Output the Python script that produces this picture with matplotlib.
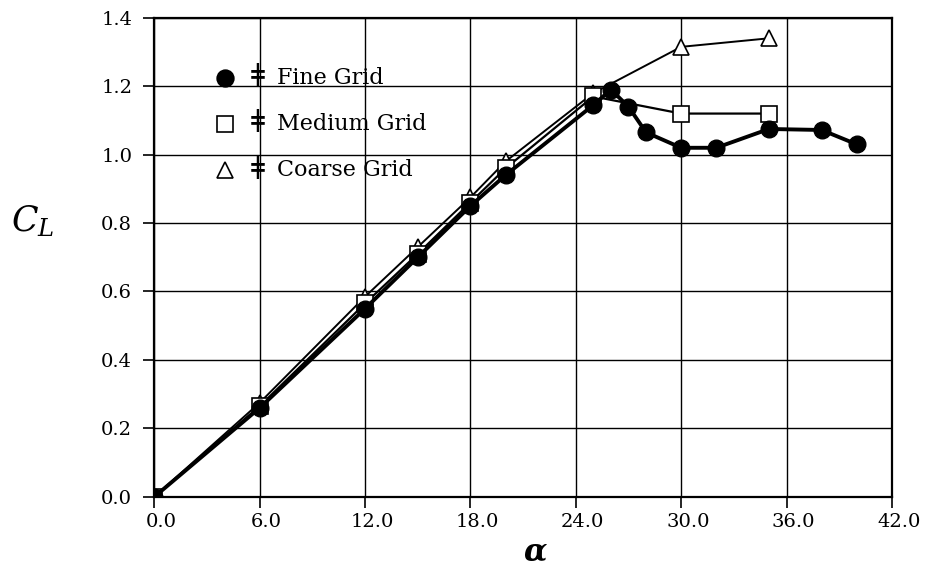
import numpy as np
import matplotlib
matplotlib.use("Agg")
import matplotlib.pyplot as plt
from matplotlib.transforms import ScaledTranslation

# angle of attack (deg) and lift coefficient
fine_alpha = [0, 6, 12, 15, 18, 20, 25, 26, 27, 28, 30, 32, 35, 38, 40]
fine_cl = [0.0, 0.26, 0.55, 0.70, 0.85, 0.94, 1.145, 1.19, 1.14, 1.065, 1.02, 1.02, 1.075, 1.072, 1.03]

medium_alpha = [0, 6, 12, 15, 18, 20, 25, 30, 35]
medium_cl = [0.0, 0.265, 0.565, 0.71, 0.86, 0.96, 1.17, 1.12, 1.12]

coarse_alpha = [0, 6, 12, 15, 18, 20, 25, 30, 35]
coarse_cl = [0.0, 0.275, 0.585, 0.73, 0.875, 0.98, 1.18, 1.315, 1.34]

xticks = np.arange(0, 43, 6)
yticks = np.arange(0, 1.41, 0.2)
legend_labels = ["Fine Grid", "Medium Grid", "Coarse Grid"]

plt.rcParams["font.family"] = ["DejaVu Serif"]
plt.rcParams["mathtext.fontset"] = "dejavuserif"

fig = plt.figure(figsize=(9.3, 5.73), dpi=100)
ax = fig.add_axes([0.166, 0.133, 0.793, 0.836])

ax.plot(coarse_alpha, coarse_cl, color="black", lw=1.4, marker="^", ms=12,
        mfc="white", mec="black", mew=1.2, zorder=3)
ax.plot(medium_alpha, medium_cl, color="black", lw=1.6, marker="s", ms=11,
        mfc="white", mec="black", mew=1.2, zorder=4)
ax.plot(fine_alpha, fine_cl, color="black", lw=2.8, marker="o", ms=12,
        mfc="black", mec="black", zorder=5)

ax.set_xlim(0, 42)
ax.set_ylim(0, 1.4)
ax.set_xticks(xticks)
ax.set_yticks(yticks)
ax.set_xticklabels([f"{v:.1f}" for v in xticks])
ax.set_yticklabels([f"{v:.1f}" for v in yticks])
ax.tick_params(direction="out", length=8, width=1.2, labelsize=14, colors="black")
ax.tick_params(axis="y", pad=8)
for lab in ax.get_xticklabels():
    lab.set_transform(lab.get_transform() + ScaledTranslation(0.07, 0, fig.dpi_scale_trans))
ax.grid(True, color="black", lw=1.0)
ax.set_axisbelow(True)
for s in ax.spines.values():
    s.set_linewidth(1.6)

# hand-drawn legend inside the plot
leg_y = [1.225, 1.09, 0.955]
leg_marker = [("o", "black", 12), ("s", "white", 11), ("^", "white", 11)]
for y, lab, (m, fc, ms) in zip(leg_y, legend_labels, leg_marker):
    ax.plot([4.0], [y], marker=m, ms=ms, mfc=fc, mec="black", mew=1.2,
            ls="none", zorder=6, clip_on=False)
    ax.text(5.9, y, "\u01c2", fontsize=22, ha="center", va="center", zorder=6)
    ax.text(7.0, y, lab, fontsize=16, ha="left", va="center", zorder=6)

ax.text(-0.165, 0.575, r"$\boldsymbol{C_L}$", transform=ax.transAxes,
        fontsize=25, ha="center", va="center")
ax.set_xlabel(r"$\boldsymbol{\alpha}$", fontsize=22, labelpad=0)
ax.xaxis.set_label_coords(0.516, -0.085)

fig.savefig("out.png", dpi=100)
